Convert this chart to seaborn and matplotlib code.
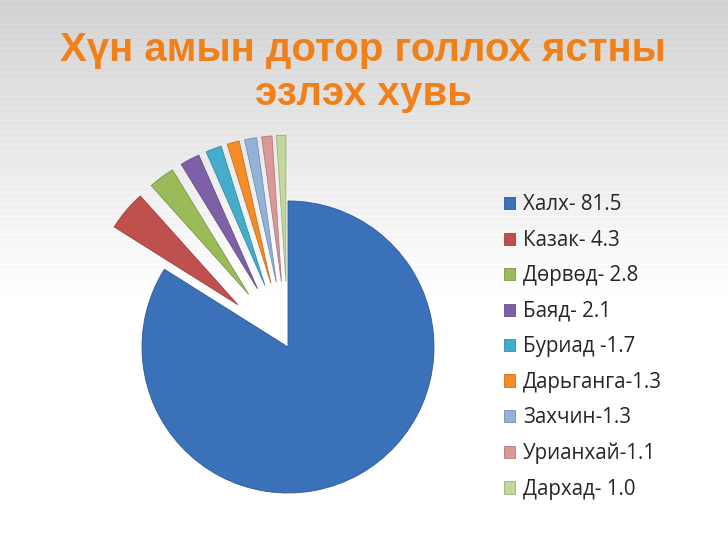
import numpy as np
import matplotlib
matplotlib.use("Agg")
import matplotlib.pyplot as plt
import seaborn as sns

# data
groups = ["Халх", "Казак", "Дөрвөд", "Баяд", "Буриад", "Дарьганга", "Захчин", "Урианхай", "Дархад"]
shares = [81.5, 4.3, 2.8, 2.1, 1.7, 1.3, 1.3, 1.1, 1.0]
legend_labels = ["Халх- 81.5", "Казак- 4.3", "Дөрвөд- 2.8", "Баяд- 2.1", "Буриад -1.7",
                 "Дарьганга-1.3", "Захчин-1.3", "Урианхай-1.1", "Дархад- 1.0"]
title = "Хүн амын дотор голлох ястны\nэзлэх хувь"

# office 2007 style colours
colors = sns.color_palette(["#3B71B9", "#C0504D", "#9BBB59", "#7E60A6", "#44ADCB",
                            "#F68C25", "#92B2DA", "#DA9897", "#C4D89C"])
explode = [0.0] + [0.45] * (len(shares) - 1)

sns.set_theme(style="white")
plt.rcParams["font.family"] = ["Open Sans", "DejaVu Sans"]

W, H = 728, 546
fig = plt.figure(figsize=(W / 100, H / 100), dpi=100)

# background: grey at the top fading to white, with faint stripes
bg = fig.add_axes([0, 0, 1, 1])
rows = np.linspace(0, 1, H)
shade = np.clip(0.82 + 0.18 * rows / 0.55, 0, 1)
stripe = np.where((np.arange(H) % 6 == 0) & (rows < 0.5), 0.02, 0.0)
shade = np.clip(shade + stripe, 0, 1)
img = np.repeat(shade[:, None], 4, axis=1)
bg.imshow(img, cmap="gray", vmin=0, vmax=1, aspect="auto", extent=[0, 1, 0, 1])
bg.set_axis_off()

# pie axes: centre at (288, 347) px from top, radius 146 px
r = 146
cx, cy = 288, H - 347
x0, x1, y0, y1 = -1.1, 1.1, -1.1, 1.5
ax = fig.add_axes([(cx + x0 * r) / W, (cy + y0 * r) / H,
                   (x1 - x0) * r / W, (y1 - y0) * r / H])
wedges, _ = ax.pie(shares, colors=colors, explode=explode, startangle=90,
                   counterclock=False,
                   wedgeprops=dict(edgecolor="#ffffff", linewidth=0.6))
for w, c in zip(wedges, colors):
    w.set_edgecolor(tuple(v * 0.8 for v in c))
ax.set_xlim(x0, x1)
ax.set_ylim(y0, y1)
ax.set_axis_off()

fig.text(0.499, 1 - 72 / H, title, ha="center", va="center", color="#F0811A",
         fontsize=29, fontweight="bold", family=["Liberation Sans", "DejaVu Sans"],
         linespacing=1.2)

fig.legend(wedges, legend_labels, loc="upper left",
           bbox_to_anchor=(485 / W, 1 - 176 / H), frameon=False,
           fontsize=14.8, handlelength=0.55, handleheight=0.55,
           handletextpad=0.4, labelspacing=0.705)

fig.savefig("out.png", dpi=100)
